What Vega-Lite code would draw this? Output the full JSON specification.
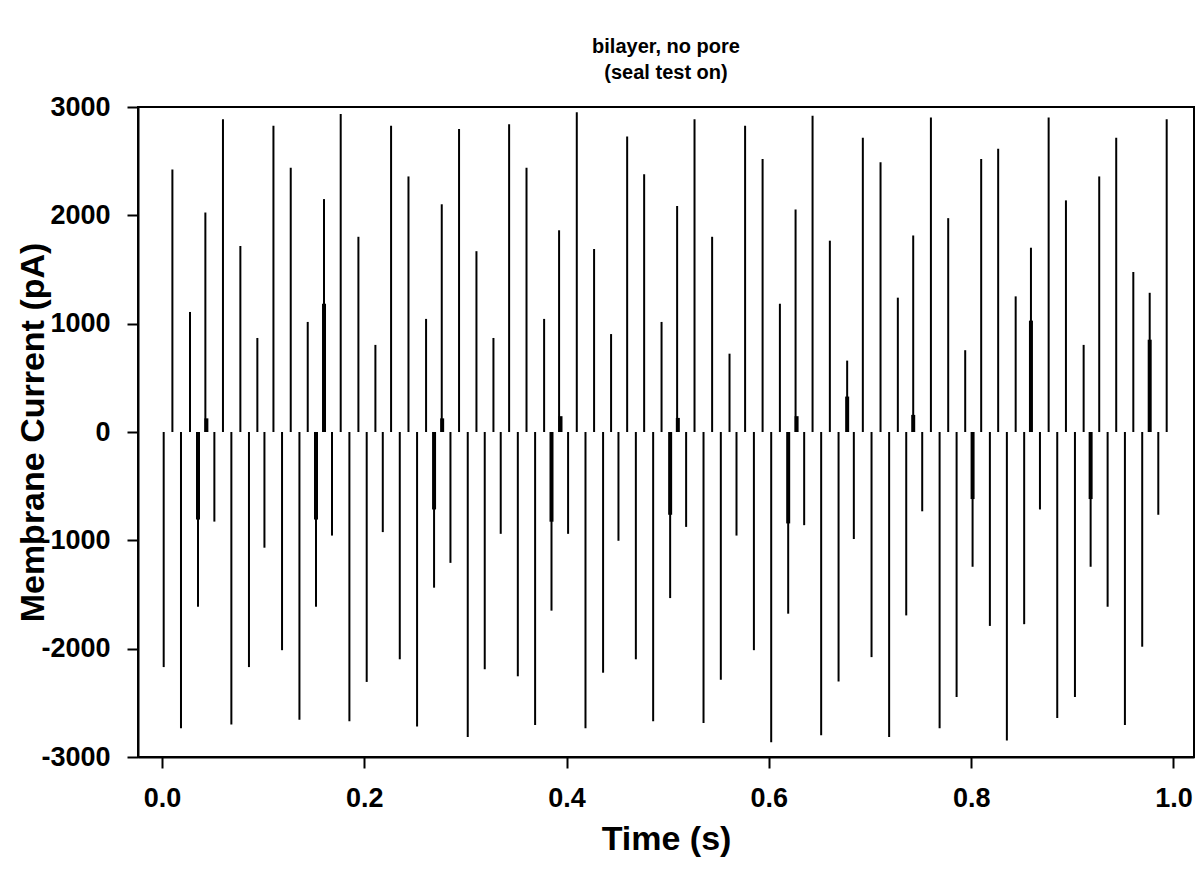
{
  "$schema": "https://vega.github.io/schema/vega-lite/v6.json",
  "autosize": {"type": "none"},
  "width": 1056,
  "height": 650,
  "padding": {"left": 138, "top": 107, "right": 1, "bottom": 114},
  "background": "white",
  "title": {
    "text": ["bilayer, no pore", "(seal test on)"],
    "fontSize": 20,
    "fontWeight": "bold",
    "font": "Liberation Sans",
    "color": "black",
    "anchor": "middle",
    "lineHeight": 26,
    "offset": 10
  },
  "config": {
    "font": "Liberation Sans",
    "view": {"stroke": "black", "strokeWidth": 2},
    "axis": {
      "domainColor": "black",
      "domainWidth": 2,
      "tickColor": "black",
      "tickWidth": 2,
      "tickSize": 11,
      "grid": false,
      "labelFont": "Liberation Sans",
      "labelFontSize": 27,
      "labelFontWeight": "bold",
      "labelColor": "black",
      "titleFont": "Liberation Sans",
      "titleFontSize": 34,
      "titleFontWeight": "bold",
      "titleColor": "black"
    }
  },
  "datasets": {
    "spikes": [
      {"t": 0.0017, "i": -2170}, {"t": 0.0103, "i": 2423}, {"t": 0.0188, "i": -2735}, {"t": 0.0277, "i": 1108},
      {"t": 0.0356, "i": -1613}, {"t": 0.0429, "i": 2026}, {"t": 0.0518, "i": -827}, {"t": 0.0603, "i": 2888},
      {"t": 0.0686, "i": -2699}, {"t": 0.0775, "i": 1717}, {"t": 0.0860, "i": -2170}, {"t": 0.0943, "i": 868},
      {"t": 0.1013, "i": -1068}, {"t": 0.1102, "i": 2828}, {"t": 0.1187, "i": -2014}, {"t": 0.1273, "i": 2439},
      {"t": 0.1359, "i": -2655}, {"t": 0.1441, "i": 1016}, {"t": 0.1523, "i": -1613}, {"t": 0.1602, "i": 2150},
      {"t": 0.1681, "i": -956}, {"t": 0.1767, "i": 2936}, {"t": 0.1853, "i": -2671}, {"t": 0.1942, "i": 1802},
      {"t": 0.2024, "i": -2307}, {"t": 0.2110, "i": 804}, {"t": 0.2183, "i": -924}, {"t": 0.2265, "i": 2828},
      {"t": 0.2351, "i": -2098}, {"t": 0.2437, "i": 2359}, {"t": 0.2522, "i": -2719}, {"t": 0.2611, "i": 1044},
      {"t": 0.2690, "i": -1437}, {"t": 0.2766, "i": 2102}, {"t": 0.2852, "i": -1208}, {"t": 0.2937, "i": 2796},
      {"t": 0.3023, "i": -2816}, {"t": 0.3109, "i": 1669}, {"t": 0.3191, "i": -2190}, {"t": 0.3277, "i": 868},
      {"t": 0.3349, "i": -940}, {"t": 0.3432, "i": 2840}, {"t": 0.3518, "i": -2255}, {"t": 0.3604, "i": 2439},
      {"t": 0.3689, "i": -2704}, {"t": 0.3778, "i": 1044}, {"t": 0.3851, "i": -1649}, {"t": 0.3926, "i": 1862},
      {"t": 0.4015, "i": -940}, {"t": 0.4101, "i": 2952}, {"t": 0.4187, "i": -2735}, {"t": 0.4272, "i": 1689},
      {"t": 0.4361, "i": -2222}, {"t": 0.4440, "i": 904}, {"t": 0.4513, "i": -1004}, {"t": 0.4599, "i": 2728},
      {"t": 0.4685, "i": -2098}, {"t": 0.4767, "i": 2379}, {"t": 0.4856, "i": -2671}, {"t": 0.4939, "i": 1016},
      {"t": 0.5024, "i": -1533}, {"t": 0.5093, "i": 2086}, {"t": 0.5182, "i": -876}, {"t": 0.5265, "i": 2888},
      {"t": 0.5354, "i": -2687}, {"t": 0.5439, "i": 1802}, {"t": 0.5525, "i": -2287}, {"t": 0.5611, "i": 723},
      {"t": 0.5680, "i": -956}, {"t": 0.5765, "i": 2828}, {"t": 0.5852, "i": -2014}, {"t": 0.5938, "i": 2519},
      {"t": 0.6023, "i": -2864}, {"t": 0.6109, "i": 1184}, {"t": 0.6191, "i": -1677}, {"t": 0.6264, "i": 2054},
      {"t": 0.6349, "i": -860}, {"t": 0.6432, "i": 2920}, {"t": 0.6517, "i": -2800}, {"t": 0.6603, "i": 1766},
      {"t": 0.6689, "i": -2303}, {"t": 0.6774, "i": 659}, {"t": 0.6840, "i": -988}, {"t": 0.6929, "i": 2716},
      {"t": 0.7015, "i": -2078}, {"t": 0.7104, "i": 2491}, {"t": 0.7189, "i": -2816}, {"t": 0.7275, "i": 1240},
      {"t": 0.7358, "i": -1693}, {"t": 0.7427, "i": 1814}, {"t": 0.7516, "i": -732}, {"t": 0.7602, "i": 2904},
      {"t": 0.7688, "i": -2735}, {"t": 0.7773, "i": 1974}, {"t": 0.7856, "i": -2447}, {"t": 0.7941, "i": 755},
      {"t": 0.8014, "i": -1244}, {"t": 0.8099, "i": 2519}, {"t": 0.8185, "i": -1790}, {"t": 0.8267, "i": 2615},
      {"t": 0.8353, "i": -2848}, {"t": 0.8440, "i": 1252}, {"t": 0.8524, "i": -1774}, {"t": 0.8591, "i": 1701},
      {"t": 0.8680, "i": -715}, {"t": 0.8766, "i": 2904}, {"t": 0.8851, "i": -2639}, {"t": 0.8937, "i": 2138},
      {"t": 0.9026, "i": -2447}, {"t": 0.9112, "i": 804}, {"t": 0.9181, "i": -1244}, {"t": 0.9266, "i": 2359},
      {"t": 0.9349, "i": -1613}, {"t": 0.9434, "i": 2716}, {"t": 0.9520, "i": -2704}, {"t": 0.9603, "i": 1477},
      {"t": 0.9691, "i": -1982}, {"t": 0.9765, "i": 1285}, {"t": 0.9850, "i": -764}, {"t": 0.9933, "i": 2888}
    ],
    "thick": [
      {"t": 0.0356, "i": -808}, {"t": 0.0439, "i": 126}, {"t": 0.1523, "i": -808}, {"t": 0.1602, "i": 1184},
      {"t": 0.2690, "i": -715}, {"t": 0.2770, "i": 126}, {"t": 0.3851, "i": -828}, {"t": 0.3940, "i": 146},
      {"t": 0.5024, "i": -764}, {"t": 0.5100, "i": 130}, {"t": 0.6191, "i": -844}, {"t": 0.6274, "i": 146},
      {"t": 0.6774, "i": 327}, {"t": 0.7427, "i": 158}, {"t": 0.8014, "i": -619}, {"t": 0.8591, "i": 1028},
      {"t": 0.9181, "i": -619}, {"t": 0.9765, "i": 852}
    ]
  },
  "layer": [
    {
      "mark": {"type": "rule", "color": "black", "strokeWidth": 2},
      "encoding": {
        "x": {"datum": 0, "type": "quantitative"},
        "x2": {"datum": 1.0},
        "y": {"datum": 0, "type": "quantitative"}
      }
    },
    {
      "data": {"name": "spikes"},
      "mark": {"type": "rule", "color": "black", "strokeWidth": 2},
      "encoding": {
        "x": {
          "field": "t", "type": "quantitative",
          "scale": {"domain": [-0.0237, 1.0203], "nice": false, "zero": false},
          "axis": {
            "values": [0, 0.2, 0.4, 0.6, 0.8, 1.0],
            "format": ".1f",
            "labelPadding": 17,
            "title": "Time (s)",
            "titlePadding": 11
          }
        },
        "y": {
          "field": "i", "type": "quantitative",
          "scale": {"domain": [-3000, 3000], "nice": false, "zero": false},
          "axis": {
            "values": [-3000, -2000, -1000, 0, 1000, 2000, 3000],
            "format": "d",
            "labelExpr": "replace(datum.label, '\u2212', '-')",
            "labelPadding": 17,
            "title": "Membrane Current (pA)",
            "titlePadding": -10
          }
        },
        "y2": {"datum": 0}
      }
    },
    {
      "data": {"name": "thick"},
      "mark": {"type": "rule", "color": "black", "strokeWidth": 4},
      "encoding": {
        "x": {"field": "t", "type": "quantitative"},
        "y": {"field": "i", "type": "quantitative"},
        "y2": {"datum": 0}
      }
    }
  ]
}
